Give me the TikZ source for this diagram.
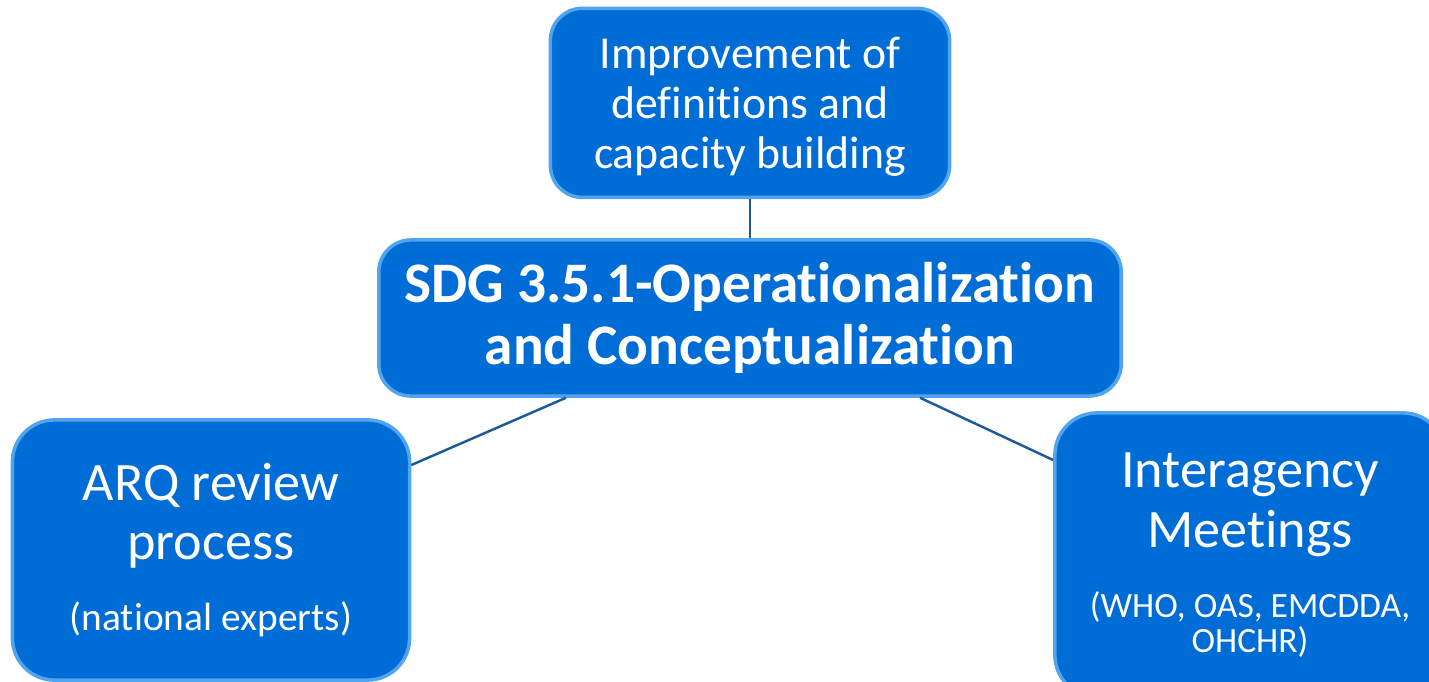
\documentclass[tikz,border=0pt]{standalone}
\usepackage{fontspec}
\setmainfont{Carlito}[Ligatures=NoCommon]
\usepackage{xcolor}
\usetikzlibrary{positioning}

\definecolor{boxblue}{RGB}{0,108,214}
\definecolor{boxedge}{RGB}{80,165,238}
\definecolor{linkblue}{RGB}{30,90,150}

\begin{document}
\begin{tikzpicture}[
  x=0.01cm,
  y=-0.01cm,
  box/.style={
    rectangle,
    draw=boxedge,
    line width=1pt,
    fill=boxblue,
    text=white,
    rounded corners=0.32cm,
    align=center,
    inner sep=0pt
  },
  topbox/.style={
    box,
    minimum width=3.99cm,
    minimum height=1.89cm,
    text depth=0pt,
    font=\fontsize{13}{14.3}\selectfont
  },
  mainbox/.style={
    box,
    minimum width=7.42cm,
    minimum height=1.56cm,
    font=\fontsize{16.3}{17.6}\selectfont\bfseries
  },
  sidebox/.style={
    box,
    rounded corners=0.42cm,
    font=\fontsize{15.4}{16.9}\selectfont
  },
  link/.style={draw=linkblue, line width=0.7pt}
]

\clip (0,0) rectangle (1429,682);

\node[mainbox] (sdg) at (750,318)
{SDG 3.5.1-Operationalization\\and Conceptualization};

\node[topbox, above=0.39cm of sdg] (improve)
{Improvement of\\definitions and\\capacity building};

\node[sidebox, minimum width=3.97cm, minimum height=2.6cm] (arq) at (211,550)
{ARQ review\\process\\[3.2pt]{\fontsize{11.2}{12}\selectfont(national experts)}};

\node[sidebox, minimum width=3.9cm, minimum height=2.84cm] (inter) at (1250,555)
{Interagency\\Meetings\\[3pt]{\fontsize{10.1}{11}\selectfont(WHO, OAS, EMCDDA,}\\[-7pt]{\fontsize{10.1}{11}\selectfont OHCHR)}};

\coordinate (sdgl) at ([xshift=-1.84cm]sdg.south);
\coordinate (sdgr) at ([xshift=1.7cm]sdg.south);

\draw[link] (improve) -- (sdg);
\draw[link] (sdgl) -- (arq.east |- 0,465);
\draw[link] (sdgr) -- (inter.west |- 0,460);

\end{tikzpicture}
\end{document}
